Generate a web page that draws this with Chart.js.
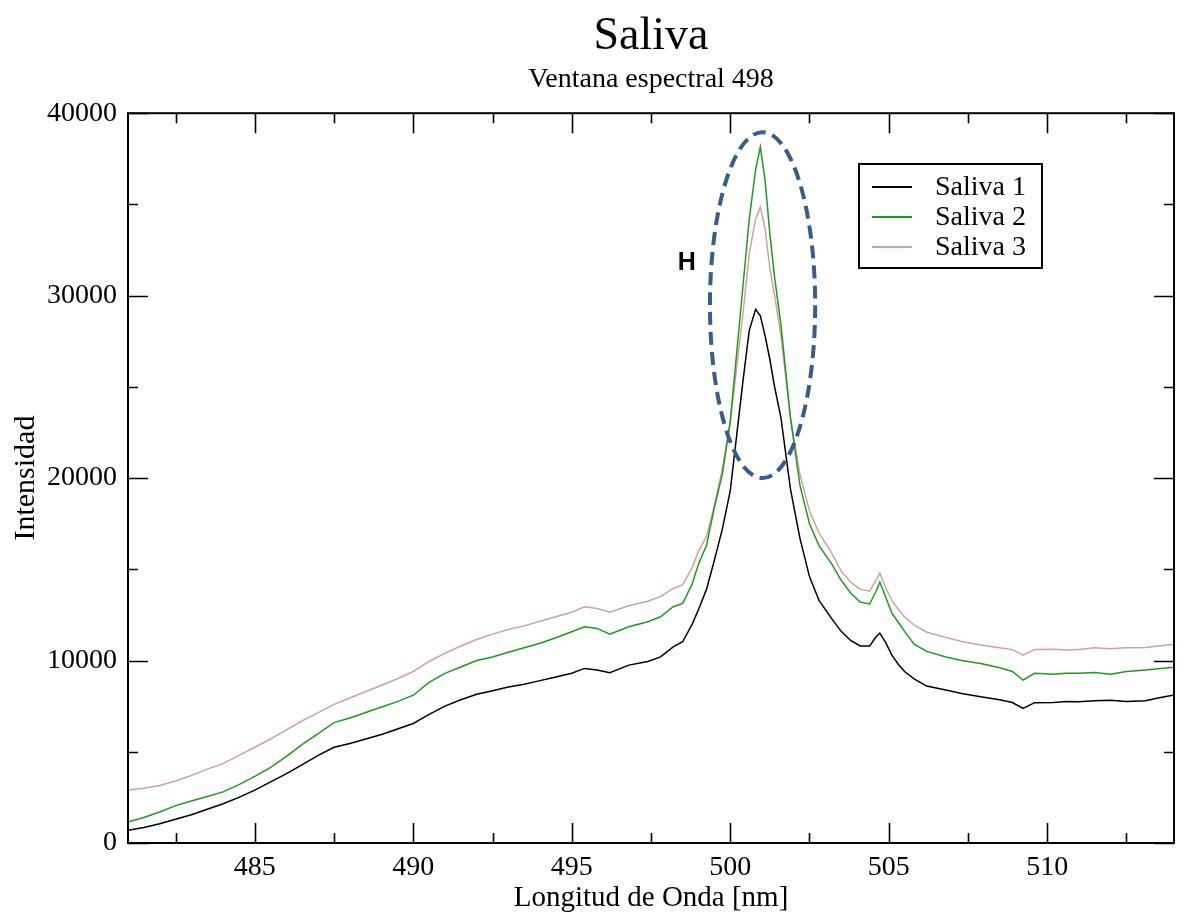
<!DOCTYPE html>
<html>
<head>
<meta charset="utf-8">
<script src="https://cdn.jsdelivr.net/npm/chart.js@4.4.1/dist/chart.umd.min.js"></script>
<style>
html,body{margin:0;padding:0;background:#ffffff;}
#wrap{width:1189px;height:913px;}
</style>
</head>
<body>
<div id="wrap"><canvas id="c" width="1189" height="913"></canvas></div>
<script>
// ---- data ----
const wavelengths = [
 481.0,481.5,482.0,482.5,483.0,483.5,484.0,484.5,485.0,485.5,
 486.0,486.5,487.0,487.5,488.0,488.5,489.0,489.5,490.0,490.5,
 491.0,491.5,492.0,492.5,493.0,493.5,494.0,494.5,495.0,495.4,
 495.8,496.2,496.8,497.4,497.8,498.2,498.5,498.8,499.0,499.25,
 499.5,499.75,500.0,500.2,500.4,500.6,500.8,500.95,501.1,501.25,
 501.4,501.6,501.9,502.2,502.5,502.8,503.2,503.5,503.8,504.1,
 504.4,504.6,504.72,504.9,505.1,505.3,505.5,505.8,506.2,506.8,
 507.3,507.9,508.5,508.9,509.24,509.6,510.2,510.6,511.0,511.5,
 512.0,512.5,513.1,513.5,514.0
];
const saliva1 = [
 700,850,1050,1300,1550,1850,2150,2500,2900,3350,
 3800,4300,4800,5250,5450,5700,5950,6250,6550,7050,
 7500,7850,8150,8350,8550,8700,8900,9100,9300,9570,
 9480,9330,9750,9950,10200,10750,11030,12000,12800,13900,
 15500,17200,19300,22300,25300,28100,29250,28900,27800,26500,
 25000,23300,19400,16700,14600,13300,12300,11600,11100,10800,
 10800,11300,11500,11000,10300,9800,9400,9000,8600,8380,
 8200,8020,7850,7700,7380,7690,7700,7750,7740,7800,
 7830,7750,7800,7950,8110
];
const saliva2 = [
 1150,1400,1700,2050,2300,2550,2800,3200,3650,4150,
 4750,5400,6000,6600,6850,7150,7450,7750,8100,8800,
 9300,9650,10000,10200,10450,10700,10950,11250,11580,11850,
 11760,11450,11850,12130,12400,12950,13130,14200,15300,16300,
 18400,20200,23100,26800,30500,34200,36900,38150,36300,33400,
 31000,28400,23300,19600,17500,16300,15300,14400,13700,13200,
 13100,13800,14300,13500,12600,12100,11600,10900,10500,10200,
 10000,9840,9600,9400,8930,9300,9250,9300,9300,9350,
 9250,9400,9480,9550,9630
];
const saliva3 = [
 2900,3000,3150,3400,3700,4050,4350,4800,5250,5700,
 6200,6700,7150,7600,7950,8300,8650,9000,9400,9950,
 10400,10800,11150,11450,11700,11900,12150,12400,12650,12950,
 12850,12650,13000,13250,13500,13950,14150,15100,16000,16800,
 18500,20500,23100,26000,29000,32300,34200,34850,33650,31500,
 30000,27800,23300,20200,18200,17000,15900,14900,14300,13900,
 13800,14400,14800,14000,13300,12800,12400,11950,11550,11270,
 11050,10850,10700,10600,10300,10600,10620,10580,10610,10700,
 10650,10700,10720,10800,10890
];
const seriesNames = ['Saliva 1','Saliva 2','Saliva 3'];
const xMajorTicks = [485,490,495,500,505,510];
const xMinorTicks = [482.5,487.5,492.5,497.5,502.5,507.5,512.5];
const yMajorTicks = [0,10000,20000,30000,40000];
const yMinorTicks = [5000,15000,25000,35000];
const markLabel = 'H';
const markLabelPos = [498.63, 31800];
const markEllipse = [501.02, 29480, 1.66, 9480]; // centre x, centre y, radius x, radius y (data units)

// ---- styling ----
const SERIF = '"Liberation Serif", "Times New Roman", serif';
const colors = ['#000000', '#1f9a1f', '#cfa2a2'];

function toPoints(vals){ return wavelengths.map((w,i)=>({x:w, y:vals[i]})); }

const framePlugin = {
  id: 'frame',
  afterDraw(chart){
    const ctx = chart.ctx, a = chart.chartArea, xs = chart.scales.x, ys = chart.scales.y;
    ctx.save();
    ctx.strokeStyle = '#000'; ctx.lineWidth = 2;
    ctx.strokeRect(a.left, a.top, a.right - a.left, a.bottom - a.top);
    ctx.beginPath();
    const tick = (vals, len) => {
      vals.forEach(v => {
        const px = Math.round(xs.getPixelForValue(v)) + 0.5;
        ctx.moveTo(px, a.bottom); ctx.lineTo(px, a.bottom - len);
        ctx.moveTo(px, a.top); ctx.lineTo(px, a.top + len);
      });
    };
    const tickY = (vals, len) => {
      vals.forEach(v => {
        const py = Math.round(ys.getPixelForValue(v)) + 0.5;
        ctx.moveTo(a.left, py); ctx.lineTo(a.left + len, py);
        ctx.moveTo(a.right, py); ctx.lineTo(a.right - len, py);
      });
    };
    tick(xMajorTicks, 20); tick(xMinorTicks, 10);
    tickY(yMajorTicks, 20); tickY(yMinorTicks, 10);
    ctx.lineWidth = 1.6;
    ctx.stroke();

    // legend box
    const lx = 859, ly = 164, lw = 183, lh = 104;
    ctx.lineWidth = 2; ctx.strokeStyle = '#000';
    ctx.strokeRect(lx, ly, lw, lh);
    ctx.font = '28px ' + SERIF; ctx.textBaseline = 'middle'; ctx.textAlign = 'left';
    chart.data.datasets.forEach((ds, i) => {
      const yy = 187 + i * 30;
      ctx.beginPath(); ctx.strokeStyle = ds.borderColor; ctx.lineWidth = 2;
      ctx.moveTo(872, yy); ctx.lineTo(912, yy); ctx.stroke();
      ctx.fillStyle = '#000'; ctx.fillText(ds.label, 935, yy + 1);
    });

    // dashed ellipse annotation + label
    const cx = xs.getPixelForValue(markEllipse[0]);
    const cy = ys.getPixelForValue(markEllipse[1]);
    const rx = Math.abs(xs.getPixelForValue(markEllipse[0] + markEllipse[2]) - cx);
    const ry = Math.abs(ys.getPixelForValue(markEllipse[1] + markEllipse[3]) - cy);
    ctx.beginPath();
    ctx.setLineDash([13, 7]);
    ctx.lineWidth = 4; ctx.strokeStyle = '#365d8f';
    ctx.ellipse(cx, cy, rx, ry, 0, 0, Math.PI * 2);
    ctx.stroke();
    ctx.setLineDash([]);
    ctx.font = 'bold 25px "Liberation Sans", Arial, sans-serif';
    ctx.fillStyle = '#000'; ctx.textAlign = 'center'; ctx.textBaseline = 'middle';
    ctx.fillText(markLabel, xs.getPixelForValue(markLabelPos[0]), ys.getPixelForValue(markLabelPos[1]));
    ctx.restore();
  }
};

new Chart(document.getElementById('c'), {
  type: 'line',
  data: {
    datasets: [saliva1, saliva2, saliva3].map((vals, i) => ({
      label: seriesNames[i],
      data: toPoints(vals),
      borderColor: colors[i],
      backgroundColor: colors[i],
      borderWidth: 1.5,
      pointRadius: 0,
      tension: 0,
      fill: false
    }))
  },
  options: {
    responsive: false,
    animation: false,
    devicePixelRatio: 1,
    layout: { padding: { left: 0, right: 15, top: 12, bottom: 0 } },
    plugins: {
      legend: { display: false },
      tooltip: { enabled: false },
      title: {
        display: true, text: 'Saliva', fullSize: false, color: '#000',
        font: { family: SERIF, size: 46, weight: 'normal', lineHeight: 1.1 },
        padding: { top: 0, bottom: 0 }
      },
      subtitle: {
        display: true, text: 'Ventana espectral 498', fullSize: false, color: '#000',
        font: { family: SERIF, size: 28, weight: 'normal', lineHeight: 1.2 },
        padding: { top: 0, bottom: 17 }
      }
    },
    scales: {
      x: {
        type: 'linear', min: 481, max: 514,
        grid: { display: false },
        border: { display: false },
        afterBuildTicks(scale){ scale.ticks = xMajorTicks.map(v => ({ value: v })); },
        afterFit(scale){ scale.height = 70; },
        ticks: { color: '#000', padding: 0, maxRotation: 0, autoSkip: false,
                 font: { family: SERIF, size: 28 } },
        title: { display: true, text: 'Longitud de Onda [nm]', color: '#000',
                 font: { family: SERIF, size: 29, lineHeight: 1.0 }, padding: { top: 0, bottom: 0 } }
      },
      y: {
        type: 'linear', min: 0, max: 40000,
        grid: { display: false },
        border: { display: false },
        afterBuildTicks(scale){ scale.ticks = yMajorTicks.map(v => ({ value: v })); },
        afterFit(scale){ scale.width = 128; },
        ticks: { color: '#000', padding: 3, autoSkip: false,
                 font: { family: SERIF, size: 28 },
                 callback: v => String(v) },
        title: { display: true, text: 'Intensidad', color: '#000',
                 font: { family: SERIF, size: 30 }, padding: { top: 8, bottom: 0 } }
      }
    }
  },
  plugins: [framePlugin]
});
</script>
</body>
</html>
